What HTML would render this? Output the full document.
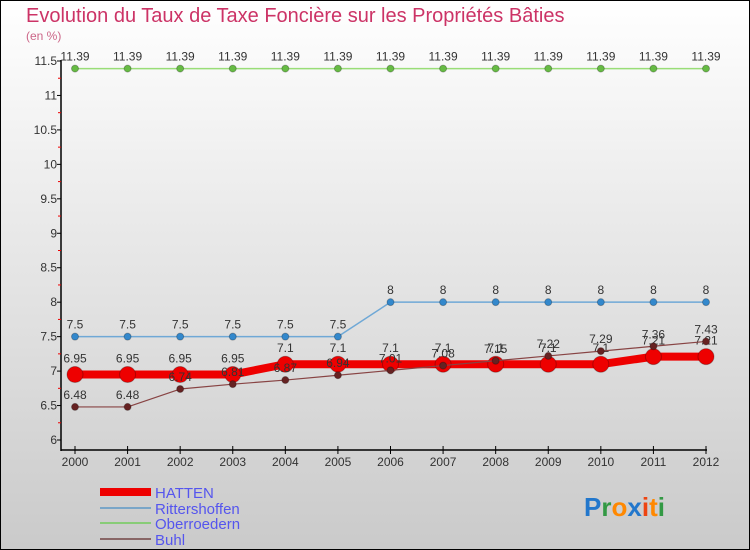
<!DOCTYPE html>
<html><head><meta charset="utf-8"><style>
body{margin:0}
#wrap{width:750px;height:550px;position:relative;overflow:hidden}
svg{display:block;font-family:"Liberation Sans",sans-serif}
</style></head><body>
<div id="wrap">
<svg id="c" width="750" height="550">
<defs><linearGradient id="bg" x1="0" y1="0" x2="0" y2="1"><stop offset="0" stop-color="#ffffff"/><stop offset="1" stop-color="#cacaca"/></linearGradient></defs>
<rect x="0.5" y="0.5" width="749" height="549" fill="url(#bg)" stroke="#000"/>
<text x="26" y="22" font-size="20" fill="#cc3366">Evolution du Taux de Taxe Foncière sur les Propriétés Bâties</text>
<text x="26" y="40" font-size="12" fill="#cc6688">(en %)</text>
<g id="axes"></g><g id="series"></g>
<g>
<rect x="100" y="488" width="51" height="8" fill="#ee0000"/>
<text x="155" y="498" font-size="15" fill="#5555ee">HATTEN</text>
<rect x="100" y="507" width="51" height="2" fill="#7aa6c8"/>
<text x="155" y="514" font-size="15" fill="#5555ee">Rittershoffen</text>
<rect x="100" y="522" width="51" height="2" fill="#88cc77"/>
<text x="155" y="529" font-size="15" fill="#5555ee">Oberroedern</text>
<rect x="100" y="538" width="51" height="2" fill="#886666"/>
<text x="155" y="545" font-size="15" fill="#5555ee">Buhl</text>
</g>
<text x="584" y="516" font-size="26" font-weight="bold"><tspan fill="#2277cc">P</tspan><tspan fill="#339944">r</tspan><tspan fill="#ff8800">o</tspan><tspan fill="#2277cc">x</tspan><tspan fill="#ee4411">i</tspan><tspan fill="#ff8800">t</tspan><tspan fill="#339944">i</tspan></text>
</svg></div>
<script>
const years=[2000,2001,2002,2003,2004,2005,2006,2007,2008,2009,2010,2011,2012];
const hatten=[6.95,6.95,6.95,6.95,7.1,7.1,7.1,7.1,7.1,7.1,7.1,7.21,7.21];
const ritt=[7.5,7.5,7.5,7.5,7.5,7.5,8,8,8,8,8,8,8];
const ober=[11.39,11.39,11.39,11.39,11.39,11.39,11.39,11.39,11.39,11.39,11.39,11.39,11.39];
const buhl=[6.48,6.48,6.74,6.81,6.87,6.94,7.01,7.08,7.15,7.22,7.29,7.36,7.43];
const yTicks=[6,6.5,7,7.5,8,8.5,9,9.5,10,10.5,11,11.5];
const NS="http://www.w3.org/2000/svg";
const X=i=>75+i*(706-75)/(years.length-1);
const Y=v=>440-(v-6)*(440-61)/5.5;
function mk(t,a,p){const e=document.createElementNS(NS,t);for(const k in a)e.setAttribute(k,a[k]);p.appendChild(e);return e;}
const ax=document.getElementById('axes');
let l=mk('line',{x1:61,y1:60,x2:61,y2:451,stroke:'#000','stroke-width':1.5},ax);


l=mk('line',{x1:61,y1:450,x2:707,y2:450,stroke:'#000','stroke-width':1.5},ax);


yTicks.forEach((v,i)=>{
  mk('line',{x1:57,y1:Y(v),x2:61,y2:Y(v),stroke:'#000'},ax);
  if(i<yTicks.length-1)mk('line',{x1:58,y1:Y(v+0.25),x2:61,y2:Y(v+0.25),stroke:'#e00'},ax);
  const t=mk('text',{x:57,y:Y(v)+4,'font-size':12,'text-anchor':'end',fill:'#333'},ax);
  t.textContent=String(v);
  
  
});
years.forEach((y,i)=>{
  mk('line',{x1:X(i),y1:446,x2:X(i),y2:454,stroke:'#000'},ax);
  const t=mk('text',{x:X(i),y:466,'font-size':12,'text-anchor':'middle',fill:'#333'},ax);
  t.textContent=y;
  
  
});
const sg=document.getElementById('series');
function series(name,data,color,w,r,dot){
  const g=mk('g',{},sg);
  
  
  const p=mk('polyline',{points:data.map((v,i)=>X(i)+','+Y(v)).join(' '),fill:'none',stroke:color,'stroke-width':w,'stroke-linejoin':'round'},g);
  
  
  data.forEach((v,i)=>{
    const c=mk('circle',{cx:X(i),cy:Y(v),r:r,fill:dot,stroke:'rgba(0,0,0,0.25)'},g);
    
    
    const t=mk('text',{x:X(i),y:Y(v)-8-(r>5?4:0),'font-size':12,'text-anchor':'middle',fill:'#333'},g);
    t.textContent=String(v);
    
    
  });
}
series('oberroedern',ober,'#99dd77',1.5,3.5,'#66bb44');
series('rittershoffen',ritt,'#6fa8d6',1.5,3.5,'#3388cc');
series('hatten',hatten,'#ee0000',8,8,'#ee0000');
series('buhl',buhl,'#884444',1.2,3.5,'#662222');
</script>
</body></html>
